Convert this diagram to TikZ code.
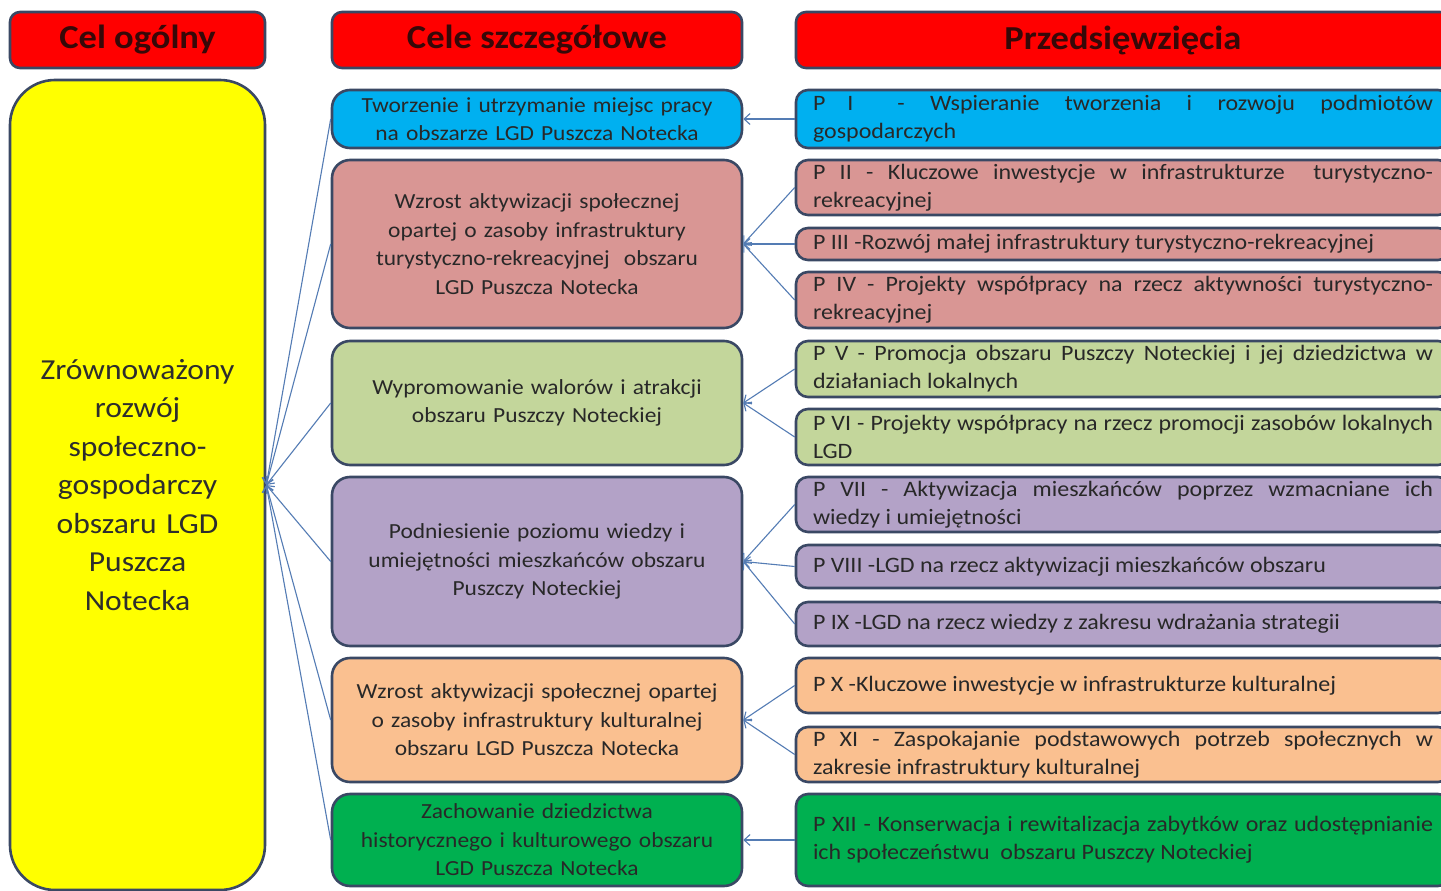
\documentclass[tikz,border=0pt]{standalone}
\usepackage{fontspec}
\setmainfont{Carlito}[FakeStretch=1.09]
\usetikzlibrary{arrows.meta}
\definecolor{bord}{RGB}{58,72,100}
\definecolor{hdrred}{RGB}{255,0,0}
\definecolor{cyel}{RGB}{255,255,0}
\definecolor{cblue}{RGB}{0,176,240}
\definecolor{cpink}{RGB}{217,150,148}
\definecolor{clgreen}{RGB}{195,214,155}
\definecolor{cpurple}{RGB}{179,162,199}
\definecolor{corange}{RGB}{250,192,144}
\definecolor{cgreen}{RGB}{0,176,80}
\definecolor{connc}{RGB}{84,124,180}
\definecolor{hdrtext}{RGB}{55,8,8}
\definecolor{txt}{RGB}{40,40,40}
\hyphenpenalty=10000
\exhyphenpenalty=10000
\tolerance=10000
\hbadness=10000
\tikzset{
  box/.style={draw=bord, line width=2.6pt, rounded corners=#1, inner sep=0pt, text=txt},
  hdr/.style={box=10pt, fill=hdrred, text=hdrtext, minimum height=56pt,
    font=\fontsize{33.5}{38}\selectfont\bfseries},
  mid/.style={box=18pt, minimum width=410pt, text width=396pt, align=center,
    font=\fontsize{21.5}{28.6}\selectfont},
  prj/.style={box=12pt, minimum width=654pt, text width=620pt, align=justify,
    font=\fontsize{22}{28}\selectfont},
  conn/.style={draw=connc, line width=1.1pt, -{Straight Barb[length=6pt,width=11pt]}},
}
\begin{document}
\begin{tikzpicture}[x=1pt,y=-1pt]
\path[use as bounding box, fill=white] (0,0) rectangle (1441,891);
\clip (0,0) rectangle (1441,891);
% headers
\node[hdr, minimum width=255pt] (h1) at (137.5,40) {Cel ogólny};
\node[hdr, minimum width=410pt] (h2) at (537,40) {Cele szczegółowe};
\node[hdr, minimum width=654pt] (h3) at (1123,40) {Przedsięwzięcia};
% general goal
\node[box=45pt, fill=cyel, minimum width=255pt, minimum height=810pt, text width=245pt,
  align=center, text={rgb,255:red,45;green,45;blue,45}, font=\fontsize{29}{38.5}\selectfont]
  (Y) at (137.5,485) {Zrównoważony\\ rozwój\\ społeczno-\\ gospodarczy\\ obszaru LGD\\ Puszcza\\ Notecka};
% specific goals
\node[mid, fill=cblue, minimum height=58pt] (m1) at (537,119)
  {Tworzenie i utrzymanie miejsc pracy\\ na obszarze LGD Puszcza Notecka};
\node[mid, fill=cpink, minimum height=168pt] (m2) at (537,244)
  {Wzrost aktywizacji społecznej\\ opartej o zasoby infrastruktury\\ turystyczno-rekreacyjnej\ \ obszaru\\ LGD Puszcza Notecka};
\node[mid, fill=clgreen, minimum height=124pt] (m3) at (537,403)
  {Wypromowanie walorów i atrakcji\\ obszaru Puszczy Noteckiej};
\node[mid, fill=cpurple, minimum height=169pt] (m4) at (537,561.5)
  {Podniesienie poziomu wiedzy i\\ umiejętności mieszkańców obszaru\\ Puszczy Noteckiej};
\node[mid, fill=corange, minimum height=124pt] (m5) at (537,720)
  {Wzrost aktywizacji społecznej opartej\\ o zasoby infrastruktury kulturalnej\\ obszaru LGD Puszcza Notecka};
\node[mid, fill=cgreen, minimum height=92pt] (m6) at (537,840)
  {Zachowanie dziedzictwa\\ historycznego i kulturowego obszaru\\ LGD Puszcza Notecka};
% projects
\node[prj, fill=cblue, minimum height=58pt] (p1) at (1123,119)
  {P\quad I\qquad - Wspieranie tworzenia i rozwoju podmiotów\linebreak gospodarczych};
\node[prj, fill=cpink, minimum height=55pt] (p2) at (1123,187.5)
  {P II - Kluczowe inwestycje w infrastrukturze\ \ turystyczno-\linebreak rekreacyjnej};
\node[prj, fill=cpink, minimum height=32pt] (p3) at (1123,244)
  {P III -Rozwój małej infrastruktury turystyczno-rekreacyjnej};
\node[prj, fill=cpink, minimum height=56pt] (p4) at (1123,300)
  {P IV - Projekty współpracy na rzecz aktywności turystyczno-\linebreak rekreacyjnej};
\node[prj, fill=clgreen, minimum height=56pt] (p5) at (1123,369)
  {P V - Promocja obszaru Puszczy Noteckiej i jej dziedzictwa w\linebreak działaniach lokalnych};
\node[prj, fill=clgreen, minimum height=56pt] (p6) at (1123,437)
  {P VI - Projekty współpracy na rzecz promocji zasobów lokalnych\linebreak LGD};
\node[prj, fill=cpurple, minimum height=55pt] (p7) at (1123,504.5)
  {P VII - Aktywizacja mieszkańców poprzez wzmacniane ich\linebreak wiedzy i umiejętności};
\node[prj, fill=cpurple, minimum height=43pt] (p8) at (1123,566.5)
  {P VIII -LGD na rzecz aktywizacji mieszkańców obszaru};
\node[prj, fill=cpurple, minimum height=44pt] (p9) at (1123,624)
  {P IX -LGD na rzecz wiedzy z zakresu wdrażania strategii};
\node[prj, fill=corange, minimum height=55pt] (p10) at (1123,685.5)
  {P X -Kluczowe inwestycje w infrastrukturze kulturalnej};
\node[prj, fill=corange, minimum height=55pt] (p11) at (1123,754.5)
  {P XI - Zaspokajanie podstawowych potrzeb społecznych w\linebreak zakresie infrastruktury kulturalnej};
\node[prj, fill=cgreen, minimum height=92pt] (p12) at (1123,840)
  {P XII - Konserwacja i rewitalizacja zabytków oraz udostępnianie\linebreak ich społeczeństwu\ \ obszaru Puszczy Noteckiej};
% connectors: projects -> specific goals
\draw[conn] (p1.west) -- (m1.east);
\draw[conn] (p2.west) -- (m2.east);
\draw[conn] (p3.west) -- (m2.east);
\draw[conn] (p4.west) -- (m2.east);
\draw[conn] (p5.west) -- (m3.east);
\draw[conn] (p6.west) -- (m3.east);
\draw[conn] (p7.west) -- (m4.east);
\draw[conn] (p8.west) -- (m4.east);
\draw[conn] (p9.west) -- (m4.east);
\draw[conn] (p10.west) -- (m5.east);
\draw[conn] (p11.west) -- (m5.east);
\draw[conn] (p12.west) -- (m6.east);
% connectors: specific goals -> general goal
\foreach \m in {m1,m2,m3,m4,m5,m6}
  \draw[conn] (\m.west) -- (Y.east);
\end{tikzpicture}
\end{document}
